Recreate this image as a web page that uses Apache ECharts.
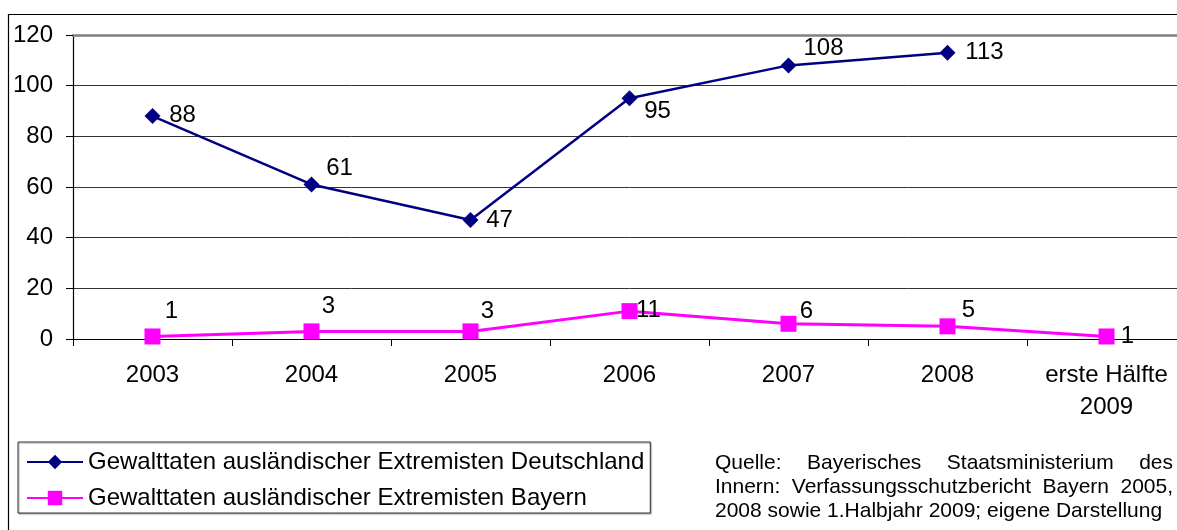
<!DOCTYPE html>
<html>
<head>
<meta charset="utf-8">
<script src="https://cdn.jsdelivr.net/npm/echarts@6/dist/echarts.min.js"></script>
<style>
  html, body { margin: 0; padding: 0; background: #fff; overflow: hidden; }
  #chart { width: 1200px; height: 560px; }
</style>
</head>
<body>
<div id="chart"></div>
<script>
// Categories (Jahre)
const categories = ['2003', '2004', '2005', '2006', '2007', '2008', 'erste Hälfte\n2009'];

// Gewalttaten ausländischer Extremisten
const deutschland = [88, 61, 47, 95, 108, 113, null];
const bayern = [1, 3, 3, 11, 6, 5, 1];

const seriesNames = [
  'Gewalttaten ausländischer Extremisten Deutschland',
  'Gewalttaten ausländischer Extremisten Bayern'
];

const yTicks = { min: 0, max: 120, interval: 20 };

const sourceLines = [
  'Quelle: Bayerisches Staatsministerium des',
  'Innern: Verfassungsschutzbericht Bayern 2005,',
  '2008 sowie 1.Halbjahr 2009; eigene Darstellung'
];

// label placement next to each marker (pixel shift from the marker centre)
const shiftDE = [[30, -1], [28, -16], [29, 0], [28, 13], [35, -17], [37, 0], [0, 0]];
const shiftBY = [[19, -25], [17, -25], [17, -20], [19, -1], [18, -12], [21, -16], [21, 0]];

const FONT = 'Liberation Sans, Arial, sans-serif';

function withLabels(values, shifts) {
  return values.map((v, i) => ({
    value: v,
    label: { offset: shifts[i] }
  }));
}

// justified text block built from word pieces
function justifiedText(lines, x0, x1, yStart, lineStep, size) {
  const ctx = document.createElement('canvas').getContext('2d');
  ctx.font = size + 'px ' + FONT;
  const out = [];
  lines.forEach((line, li) => {
    const y = yStart + li * lineStep;
    const last = li === lines.length - 1;
    if (last) {
      out.push({ type: 'text', x: x0, y: y,
        style: { text: line, font: size + 'px ' + FONT, fill: '#000', textVerticalAlign: 'middle' } });
      return;
    }
    const words = line.split(' ');
    const widths = words.map(w => ctx.measureText(w).width);
    const total = widths.reduce((a, b) => a + b, 0);
    const gap = (x1 - x0 - total) / (words.length - 1);
    let x = x0;
    words.forEach((w, wi) => {
      out.push({ type: 'text', x: x, y: y,
        style: { text: w, font: size + 'px ' + FONT, fill: '#000', textVerticalAlign: 'middle' } });
      x += widths[wi] + gap;
    });
  });
  return out;
}

const chart = echarts.init(document.getElementById('chart'), null, { renderer: 'canvas' });

const option = {
  animation: false,
  backgroundColor: '#fff',
  textStyle: { fontFamily: FONT },
  grid: { left: 73, top: 35, width: 1113, height: 304, containLabel: false },
  xAxis: [{
    type: 'category',
    data: categories,
    boundaryGap: true,
    axisLine: { lineStyle: { color: '#000', width: 1.2 } },
    axisTick: { show: true, length: 7, inside: false, alignWithLabel: false, lineStyle: { color: '#000' } },
    axisLabel: { color: '#000', fontSize: 24, margin: 20, lineHeight: 32, fontFamily: FONT, interval: 0 },
    splitLine: { show: false }
  }, {
    type: 'category',
    data: categories,
    position: 'top',
    axisLine: { show: true, lineStyle: { color: '#808080', width: 2.5 } },
    axisTick: { show: false },
    axisLabel: { show: false }
  }],
  yAxis: {
    type: 'value',
    min: yTicks.min, max: yTicks.max, interval: yTicks.interval,
    axisLine: { show: true, lineStyle: { color: '#000', width: 1.2 } },
    axisTick: { show: true, length: 7, lineStyle: { color: '#000' } },
    axisLabel: { color: '#000', fontSize: 24, margin: 20, fontFamily: FONT },
    splitLine: { show: true, lineStyle: { color: '#333', width: 1 } }
  },
  legend: {
    orient: 'vertical',
    left: 18, top: 442,
    padding: [8, 6, 3, 8],
    itemWidth: 56, itemHeight: 18, itemGap: 12,
    borderColor: '#333', borderWidth: 1,
    shadowColor: 'rgba(0,0,0,0.35)', shadowOffsetX: 1, shadowOffsetY: 1, shadowBlur: 1,
    backgroundColor: '#fff',
    textStyle: { fontSize: 24, color: '#000', fontFamily: FONT },
    data: seriesNames
  },
  series: [{
    name: seriesNames[0],
    type: 'line',
    data: withLabels(deutschland, shiftDE),
    symbol: 'diamond', symbolSize: 16,
    lineStyle: { color: '#000080', width: 2.5 },
    itemStyle: { color: '#000080' },
    label: { show: true, position: 'inside', fontSize: 24, color: '#000', fontFamily: FONT }
  }, {
    name: seriesNames[1],
    type: 'line',
    data: withLabels(bayern, shiftBY),
    symbol: 'rect', symbolSize: 16,
    lineStyle: { color: '#FF00FF', width: 3 },
    itemStyle: { color: '#FF00FF' },
    label: { show: true, position: 'inside', fontSize: 24, color: '#000', fontFamily: FONT }
  }],
  graphic: [
    { type: 'rect', silent: true, z: -10,
      shape: { x: 8.5, y: 14.5, width: 1300, height: 700 },
      style: { fill: 'none', stroke: '#000', lineWidth: 1.2 } }
  ].concat(justifiedText(sourceLines, 715, 1173, 463, 24, 21))
};

chart.setOption(option);
</script>
</body>
</html>
